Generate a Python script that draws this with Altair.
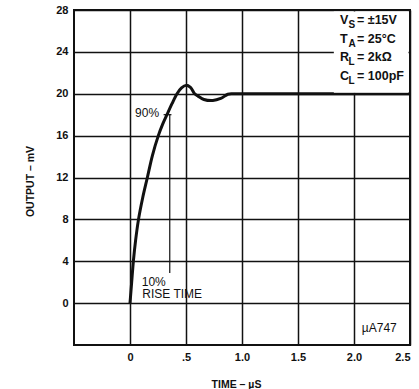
import altair as alt
import pandas as pd

# ---- data ----
curve_t = [0, 0.015, 0.03, 0.05, 0.076, 0.112, 0.155, 0.2, 0.253, 0.29, 0.33,
           0.375, 0.42, 0.46, 0.5, 0.54, 0.577, 0.61, 0.66, 0.74, 0.81, 0.874,
           0.92, 1.2, 1.6, 2.0, 2.5]
curve_v = [0, 2, 4, 6, 8, 10, 12, 14.1, 16, 17.05, 18,
           19.05, 20, 20.55, 20.8, 20.6, 20, 19.75, 19.45, 19.35, 19.55, 19.95,
           20, 20, 20, 20, 20]

x_ticks = [0, 0.5, 1.0, 1.5, 2.0, 2.5]
y_ticks = [0, 4, 8, 12, 16, 20, 24, 28]

# rise-time markers (90% level line and tick)
marker_x = [0.355, 0.30]
marker_y = [18, 18]
marker_x2 = [0.355, 0.37]
marker_y2 = [2.88, 18]

# conditions box
box_x, box_x2, box_y, box_y2 = [1.82], [2.5], [20], [28]
cond_main = ["V", "T", "R", "C"]
cond_sub = ["S", "A", "L", "L"]
cond_rest = ["= \u00b115V", "= 25\u00b0C", "= 2k\u03a9", "= 100pF"]
cond_y = [27.0, 25.2, 23.5, 21.7]
cond_x = [1.875] * 4

# free annotations
ann_text = ["10%", "RISE TIME", "\u00b5A747"]
ann_x = [0.105, 0.11, 2.07]
ann_y = [2.05, 0.83, -2.37]
lbl90_text = ["90%"]
lbl90_x = [0.26]
lbl90_y = [18.16]

INK = "#111111"
FONT = "Liberation Sans"

xs = alt.Scale(domain=[-0.5, 2.5], nice=False, zero=False)
ys = alt.Scale(domain=[-4, 28], nice=False, zero=False)

X = alt.X("t:Q", scale=xs, axis=alt.Axis(
    values=x_ticks,
    labelExpr="datum.value == 0 ? '0' : datum.value == 0.5 ? '.5' : format(datum.value, '.1f')",
    title="TIME \u2013 \u00b5S", titleX=162, titleY=39, titleAlign="center",
    titleBaseline="middle", titleFontSize=10.5, titleFontWeight="bold",
    labelPadding=6, ticks=False, domain=False, grid=True,
    gridColor=INK, gridWidth=1.5, gridOpacity=1,
    labelFontSize=11, labelFontWeight="bold", labelFont=FONT, labelColor=INK,
    titleFont=FONT, titleColor=INK))
Y = alt.Y("v:Q", scale=ys, axis=alt.Axis(
    values=y_ticks, title="OUTPUT \u2013 mV", titleX=-44, titleY=171,
    titleAngle=-90, titleAlign="center", titleBaseline="middle",
    titleFontSize=10.5, titleFontWeight="bold",
    labelPadding=6, ticks=False, domain=False, grid=True,
    gridColor=INK, gridWidth=1.5, gridOpacity=1,
    labelFontSize=11, labelFontWeight="bold", labelFont=FONT, labelColor=INK,
    titleFont=FONT, titleColor=INK))

curve_df = pd.DataFrame({"t": curve_t, "v": curve_v})
line = alt.Chart(curve_df).mark_line(color=INK, strokeWidth=3, interpolate="catmull-rom").encode(x=X, y=Y)

markers_df = pd.DataFrame({"t": marker_x, "v": marker_y, "t2": marker_x2, "v2": marker_y2})
markers = alt.Chart(markers_df).mark_rule(color=INK, strokeWidth=1.2).encode(
    x=X, x2="t2:Q", y=Y, y2="v2:Q")

box_df = pd.DataFrame({"t": box_x, "t2": box_x2, "v": box_y, "v2": box_y2})
box = alt.Chart(box_df).mark_rect(fill="white", x2Offset=-1.5, y2Offset=1.5, yOffset=-1).encode(
    x=X, x2="t2:Q", y=Y, y2="v2:Q")

cond_df = pd.DataFrame({"t": cond_x, "v": cond_y, "main": cond_main,
                        "sub": cond_sub, "rest": cond_rest})
cond_base = alt.Chart(cond_df).encode(x=X, y=Y)
cond_main_l = cond_base.mark_text(align="left", baseline="middle", font=FONT,
                                  fontSize=12.5, fontWeight="bold", color=INK).encode(text="main:N")
cond_sub_l = cond_base.mark_text(align="left", baseline="middle", font=FONT, dx=8.5, dy=5,
                                 fontSize=10, fontWeight="bold", color=INK).encode(text="sub:N")
cond_rest_l = cond_base.mark_text(align="left", baseline="middle", font=FONT, dx=17,
                                  fontSize=12.5, fontWeight="bold", color=INK).encode(text="rest:N")

ann_df = pd.DataFrame({"t": ann_x, "v": ann_y, "text": ann_text})
ann = alt.Chart(ann_df).mark_text(align="left", baseline="middle", font=FONT,
                                  fontSize=12, color=INK).encode(x=X, y=Y, text="text:N")

l90_df = pd.DataFrame({"t": lbl90_x, "v": lbl90_y, "text": lbl90_text})
l90 = alt.Chart(l90_df).mark_text(align="right", baseline="middle", font=FONT,
                                  fontSize=12, color=INK).encode(x=X, y=Y, text="text:N")

chart = alt.layer(line, markers, box, cond_main_l, cond_sub_l, cond_rest_l, ann, l90).properties(
    width=336, height=335, autosize="none",
    padding={"left": 74, "top": 10, "right": 9, "bottom": 44},
    background="white",
).configure_view(stroke=INK, strokeWidth=2)

chart.save("out.html", embed_options={"renderer": "svg", "actions": False})
